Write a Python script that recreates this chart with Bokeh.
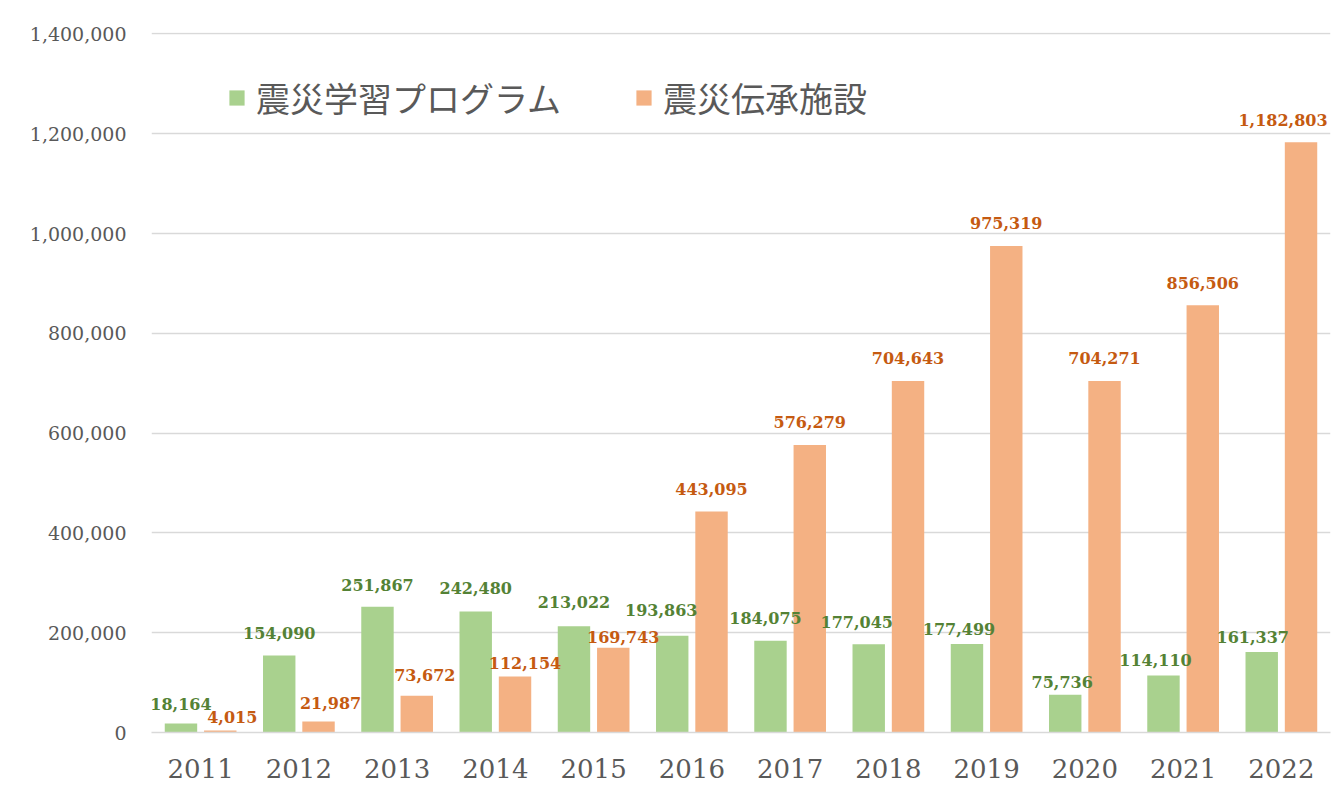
from bokeh.plotting import figure
from bokeh.models import ColumnDataSource, FactorRange, Range1d, LabelSet, Legend, LegendItem, NumeralTickFormatter, FixedTicker
from bokeh.transform import dodge
from bokeh.core.properties import value
from bokeh.embed import file_html
from bokeh.resources import INLINE

years = ["2011", "2012", "2013", "2014", "2015", "2016", "2017", "2018", "2019", "2020", "2021", "2022"]
program = [18164, 154090, 251867, 242480, 213022, 193863, 184075, 177045, 177499, 75736, 114110, 161337]
facility = [4015, 21987, 73672, 112154, 169743, 443095, 576279, 704643, 975319, 704271, 856506, 1182803]
series_names = ["震災学習プログラム", "震災伝承施設"]
y_ticks = [0, 200000, 400000, 600000, 800000, 1000000, 1200000, 1400000]

# manual nudges of the data labels (pixels), as placed in the original chart
program_lbl_dx = [0, 0, 0, 0, 0, -11, -5, -12, -8, -3, -8, -9]
program_lbl_dy = [13, 17, 16, 18, 18, 20, 17, 16, 9, 7, 10, 9]
facility_lbl_dx = [12, 12, 8, 10, 10, 0, 0, 0, 0, 0, 0, -18]
facility_lbl_dy = [7, 13, 15, 8, 5, 16, 17, 17, 17, 17, 16, 16]

GREEN = "#A9D18E"
ORANGE = "#F4B183"
GREEN_TXT = "#548235"
ORANGE_TXT = "#C55A11"
GRAY = "#595959"
GRID = "#D9D9D9"

src = ColumnDataSource(dict(
    years=years,
    program=program,
    facility=facility,
    program_lbl=[f"{v:,}" for v in program],
    facility_lbl=[f"{v:,}" for v in facility],
    p_dx=program_lbl_dx, p_dy=program_lbl_dy,
    f_dx=facility_lbl_dx, f_dy=facility_lbl_dy,
))

p = figure(
    x_range=FactorRange(*years, range_padding=0),
    y_range=Range1d(0, 1403000),
    width=1336, height=785,
    output_backend="svg", toolbar_location=None,
    min_border_left=151, min_border_right=6, min_border_top=32, min_border_bottom=53,
)
p.outline_line_color = None
p.background_fill_color = "white"
p.border_fill_color = "white"

r1 = p.vbar(x=dodge("years", -0.2, range=p.x_range), top="program", width=0.33,
            source=src, fill_color=GREEN, line_color=None)
r2 = p.vbar(x=dodge("years", 0.2, range=p.x_range), top="facility", width=0.33,
            source=src, fill_color=ORANGE, line_color=None)

lab_kw = dict(text_font=value("DejaVu Serif"), text_font_size="16px", text_font_style="bold",
              text_align="center", text_baseline="bottom", source=src)
p.add_layout(LabelSet(x=dodge("years", -0.2, range=p.x_range), y="program", text="program_lbl",
                      x_offset="p_dx", y_offset="p_dy", text_color=GREEN_TXT, **lab_kw))
p.add_layout(LabelSet(x=dodge("years", 0.2, range=p.x_range), y="facility", text="facility_lbl",
                      x_offset="f_dx", y_offset="f_dy", text_color=ORANGE_TXT, **lab_kw))

# axes
p.yaxis.ticker = FixedTicker(ticks=y_ticks)
p.yaxis.formatter = NumeralTickFormatter(format="0,0")
p.yaxis.axis_line_color = None
p.yaxis.major_tick_line_color = None
p.yaxis.minor_tick_line_color = None
p.yaxis.major_tick_out = 0
p.yaxis.major_label_standoff = 25
p.yaxis.major_label_text_font = "DejaVu Serif"
p.yaxis.major_label_text_font_size = "19px"
p.yaxis.major_label_text_color = GRAY

p.xaxis.axis_line_color = GRID
p.xaxis.axis_line_width = 1.5
p.xaxis.major_tick_line_color = None
p.xaxis.minor_tick_line_color = None
p.xaxis.major_tick_out = 0
p.xaxis.major_label_standoff = 26
p.xaxis.major_label_text_font = "DejaVu Serif"
p.xaxis.major_label_text_font_size = "26px"
p.xaxis.major_label_text_color = GRAY

p.xgrid.grid_line_color = None
p.ygrid.grid_line_color = GRID
p.ygrid.grid_line_width = 1.5

legend = Legend(
    items=[LegendItem(label=series_names[0], renderers=[r1]),
           LegendItem(label=series_names[1], renderers=[r2])],
    orientation="horizontal",
    location=(76, 610),
    label_text_font="Noto Sans CJK JP",
    label_text_font_size="34px",
    label_text_color=GRAY,
    glyph_width=19, glyph_height=19,
    label_standoff=10,
    spacing=73,
    padding=0, margin=0,
    border_line_color=None,
    background_fill_alpha=0,
)
p.add_layout(legend)

open("out.html", "w").write(file_html(p, INLINE))
